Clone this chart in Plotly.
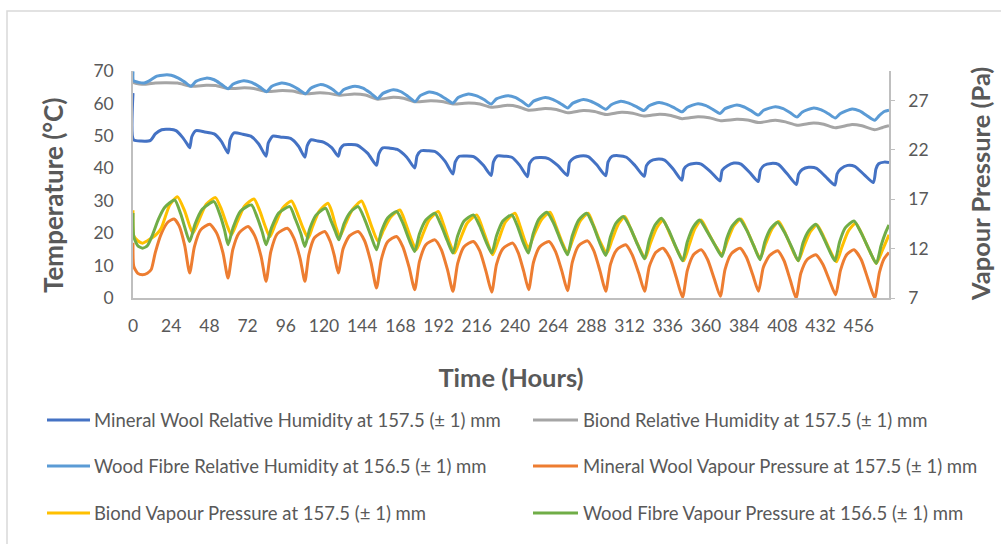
import plotly.graph_objects as go

# ---- Series data (hours, value) ----
mw_rh_t = [0, 0.3, 5, 11, 14, 18, 23, 27, 31, 34, 35.6,
           37, 39.6, 45, 51, 55.5, 59.7,
           61, 63.5, 69, 74, 79, 83.6,
           85, 87.8, 93, 99, 104, 108,
           109.5, 112, 116, 120, 125, 129,
           130.3, 132.5, 137, 141, 147.5, 153,
           154.5, 157, 161.5, 166, 172, 177,
           178.5, 181, 185.5, 190, 196, 201,
           202.5, 205, 209.5, 214, 220, 225,
           226.5, 229, 234, 238, 243, 247.8,
           249.2, 252, 256.5, 261, 267, 272.9,
           274.3, 277, 281, 286, 291.5, 297,
           298.5, 301, 305, 310, 315.5, 321.2,
           322.6, 325, 329, 334, 339.5, 344.8,
           346.2, 349, 352.5, 357, 363, 368.8,
           370.2, 373.5, 377.5, 382, 387.5, 392.8,
           394.2, 396.5, 401, 405.5, 411, 416.8,
           418.2, 420.5, 424.5, 429.5, 435, 441,
           442.4, 444.7, 449, 453.5, 459.5, 465.2,
           466.8, 468.5, 472, 475]
mw_rh_v = [63.2, 48.8, 48.4, 48.6, 50.6, 51.9, 52.0, 51.6, 49.6, 47.5, 46.3,
           49.8, 51.6, 51.2, 50.6, 48.3, 44.7,
           48.8, 50.9, 50.5, 49.9, 47.5, 43.7,
           47.8, 49.9, 49.6, 49.2, 46.8, 43.4,
           47.0, 48.8, 48.4, 48.0, 46.3, 43.7,
           46.0, 47.2, 47.3, 47.1, 44.6, 40.9,
           44.5, 46.3, 46.2, 45.8, 43.4, 40.1,
           43.8, 45.4, 45.4, 45.1, 42.2, 38.2,
           42.0, 43.7, 43.8, 43.6, 41.0, 37.8,
           42.0, 43.8, 43.7, 43.4, 40.9, 37.4,
           41.5, 43.1, 43.3, 43.0, 40.8, 37.8,
           41.8, 43.2, 43.8, 43.6, 41.0, 37.7,
           42.0, 43.7, 43.9, 43.4, 40.8, 37.5,
           40.8, 42.2, 42.8, 42.5, 39.7, 36.3,
           39.8, 41.1, 41.5, 41.3, 38.9, 36.1,
           39.4, 40.8, 41.6, 41.3, 38.7, 35.9,
           39.4, 40.9, 41.5, 41.2, 38.3, 35.0,
           38.2, 39.6, 40.3, 40.0, 37.5, 34.8,
           38.3, 39.8, 40.9, 40.6, 38.0, 35.6,
           39.8, 41.4, 41.9, 41.8]

bi_rh_t = [0, 0.3, 4, 8, 14, 20, 28, 36.5, 46, 52, 59.7, 70, 76, 84, 94, 100,
           108.5, 117.5, 123, 129.5, 139, 146, 153.8, 163.5, 170, 177.3, 187,
           194, 201, 211, 218, 225, 235.5, 242, 248.5, 259, 266, 273.2, 283,
           290, 297.2, 307, 314, 321, 331, 338, 345, 355, 362, 368.8, 379.4,
           386, 393, 403.6, 410, 417.2, 427.7, 434, 441.3, 451.8, 458, 466,
           471, 475]
bi_rh_v = [67.0, 66.4, 66.0, 65.9, 66.3, 66.4, 66.3, 65.3, 65.6, 65.5, 64.6,
           64.8, 64.6, 63.7, 64.0, 63.8, 63.0, 63.3, 63.1, 62.5, 62.9, 62.6,
           61.3, 61.9, 61.6, 60.5, 60.8, 60.6, 59.8, 60.1, 59.8, 58.8, 59.4,
           59.0, 57.9, 58.4, 58.1, 57.1, 57.8, 57.5, 56.6, 57.3, 57.0, 56.1,
           56.7, 56.3, 55.3, 55.9, 55.6, 54.7, 55.1, 54.9, 54.1, 54.8, 54.3,
           53.3, 54.0, 53.6, 52.5, 53.5, 53.1, 51.9, 52.6, 53.1]

wf_rh_t = [0, 0.3, 3.5, 7, 11, 15, 20, 24, 28.5, 32.5, 36.5,
           39.5, 46, 51, 55.5, 59.7,
           63, 69.5, 74.5, 79.5, 84,
           87, 93.3, 98.5, 103.5, 108.5,
           111.5, 117.5, 121.5, 125.5, 129.5,
           132.5, 139.4, 144.5, 149.5, 153.8,
           157, 163.5, 168.5, 173, 177.3,
           180.5, 186, 191, 196, 201,
           204.3, 210.7, 215.5, 220.5, 225,
           228.3, 235.5, 240.5, 244.5, 248.5,
           251.7, 259, 264, 268.5, 273.2,
           276.4, 283, 288, 292.5, 297.2,
           300.5, 306.5, 311.5, 316.3, 321,
           324.3, 330.5, 335.5, 340.3, 345,
           348.3, 355, 360, 364.5, 368.8,
           372, 379.4, 384, 388.5, 393,
           396.2, 403.6, 408.5, 413, 417.2,
           420.4, 427.7, 432.5, 437, 441.3,
           444.5, 451.8, 456.5, 461, 466,
           469, 472, 475]
wf_rh_v = [69.9, 67.0, 66.5, 66.3, 67.2, 68.4, 68.8, 68.7, 67.8, 66.6, 65.3,
           66.8, 67.8, 67.3, 65.9, 64.5,
           66.0, 67.0, 66.5, 65.1, 63.6,
           65.2, 66.3, 65.8, 64.5, 63.0,
           64.6, 65.8, 65.4, 64.3, 62.9,
           64.3, 65.3, 64.7, 63.1, 61.5,
           63.1, 64.2, 63.6, 62.1, 60.6,
           62.4, 63.5, 63.0, 61.6, 60.1,
           61.8, 62.9, 62.4, 61.2, 59.8,
           61.4, 62.4, 61.8, 60.6, 59.2,
           60.7, 61.8, 61.2, 60.0, 58.6,
           60.1, 61.2, 60.6, 59.5, 58.2,
           59.6, 60.7, 60.1, 59.0, 57.8,
           59.3, 60.3, 59.7, 58.6, 57.4,
           58.8, 59.9, 59.3, 58.1, 56.9,
           58.4, 59.5, 58.9, 57.7, 56.4,
           57.9, 59.0, 58.4, 57.1, 55.8,
           57.3, 58.6, 58.0, 56.8, 55.5,
           56.9, 58.3, 57.7, 56.3, 54.8,
           56.3, 57.5, 57.9]

mw_vp_t = [0, 0.5, 3, 6, 9, 11.5, 14, 18, 22, 25.8, 29, 32.5, 35.6,
           38.6, 42.5, 48.2, 52.5, 56.5, 59.7,
           62.7, 66.7, 72.3, 76.5, 80.5, 83.6,
           86.6, 90.6, 97, 101, 105, 108,
           110.5, 114, 120.5, 124, 126.5, 129,
           132, 136, 141.5, 145.5, 149.5, 153,
           156, 160, 165.6, 169.5, 173.5, 177,
           180, 184, 189.7, 193.7, 197.7, 201,
           204, 208, 213.8, 217.8, 221.8, 225.4,
           228.4, 232.4, 238.6, 242, 245.5, 248.6,
           251.6, 255.6, 261.4, 265.5, 269.5, 273,
           276, 280, 285.6, 289.5, 293.5, 297,
           300, 304, 309.6, 313.6, 317.8, 321.4,
           324.4, 328.4, 333, 337.5, 341.5, 345.3,
           348.3, 352.3, 357, 361, 365.3, 369,
           372, 376, 381.5, 385.5, 389.5, 393,
           396, 400, 405, 409, 413, 416.6,
           419.6, 423.6, 429, 433.5, 437.8, 441.5,
           444.5, 448.5, 453, 457.5, 462, 466,
           469, 472, 475]
mw_vp_v = [12.6, 10.2, 9.5, 9.35, 9.5, 9.9, 11.6, 13.6, 14.7, 15.0, 14.3, 12.3, 9.53,
           12.2, 13.9, 14.47, 13.6, 11.6, 9.02,
           11.9, 13.6, 14.24, 13.3, 11.2, 8.69,
           11.7, 13.5, 14.07, 13.1, 11.0, 8.69,
           11.4, 13.1, 13.74, 12.7, 11.3, 9.53,
           12.0, 13.3, 13.74, 12.8, 10.6, 8.01,
           10.9, 12.7, 13.23, 12.2, 10.1, 7.84,
           10.7, 12.4, 12.89, 11.9, 9.8, 7.68,
           10.5, 12.2, 12.73, 11.8, 9.7, 7.6,
           10.4, 12.0, 12.56, 11.6, 9.7, 7.84,
           10.6, 12.2, 12.73, 11.7, 9.7, 7.74,
           10.6, 12.3, 12.79, 11.8, 9.7, 7.68,
           10.4, 11.9, 12.39, 11.4, 9.5, 7.68,
           10.2, 11.6, 12.05, 11.0, 9.0, 7.07,
           9.8, 11.4, 11.88, 10.9, 8.9, 7.17,
           9.9, 11.5, 12.05, 11.1, 9.3, 7.68,
           10.1, 11.3, 11.78, 10.8, 8.8, 7.0,
           9.5, 10.9, 11.38, 10.4, 8.7, 7.33,
           9.8, 11.4, 11.88, 10.9, 8.8, 7.0,
           9.6, 11.0, 11.6]

bi_vp_t = [0, 0.5, 3, 6, 9, 12, 15, 17.8, 23, 27.9, 32.5, 35.6, 37.7,
           41.5, 46, 51.8, 55.5, 59, 61.8,
           65.5, 70, 76, 79.5, 83, 86,
           89.5, 94, 99.6, 103, 106.8, 110,
           113, 117, 122.5, 125, 127.5, 130,
           133.5, 138, 143.6, 147, 150.5, 154,
           157.5, 162, 167.7, 171, 174.5, 178,
           181.5, 186, 191.8, 195, 198.5, 202,
           205.5, 210, 216, 219.5, 223, 226,
           229.5, 234, 240, 243, 245.8, 248.4,
           252, 256.5, 262, 265.5, 269.5, 273,
           276.5, 281, 286, 289.5, 293.5, 297.7,
           301, 305, 309, 313, 317.5, 321.8,
           325, 329, 333, 337, 341.5, 346,
           349.5, 353, 357, 361.5, 366, 370,
           373.5, 377.5, 382, 386, 390, 394,
           397.5, 401.5, 405.7, 410, 414, 418,
           421.5, 425.5, 429.8, 434, 438, 442,
           445.5, 449.5, 454, 458.5, 463, 467,
           471, 475]
bi_vp_v = [15.9, 13.3, 12.8, 12.56, 12.8, 13.1, 13.5, 14.1, 16.4, 17.27, 15.8, 14.3, 13.57,
           14.9, 16.5, 17.17, 16.0, 14.4, 13.4,
           14.7, 16.3, 17.03, 15.9, 14.3, 13.2,
           14.5, 16.1, 16.83, 15.7, 14.1, 13.06,
           14.3, 15.8, 16.6, 15.7, 14.2, 13.23,
           14.5, 16.0, 16.83, 15.6, 14.0, 12.73,
           13.9, 15.2, 15.92, 14.7, 13.1, 11.88,
           13.2, 14.9, 15.76, 14.5, 12.8, 11.55,
           12.9, 14.6, 15.42, 14.1, 12.5, 11.38,
           12.8, 14.7, 15.59, 14.4, 13.0, 12.05,
           13.4, 14.9, 15.69, 14.4, 12.7, 11.55,
           13.0, 14.8, 15.59, 14.3, 12.7, 11.55,
           12.9, 14.5, 15.25, 13.9, 12.3, 11.04,
           12.5, 14.1, 14.91, 13.6, 12.0, 10.77,
           12.4, 14.0, 14.91, 13.6, 12.3, 11.38,
           12.8, 14.3, 15.01, 13.8, 12.3, 11.04,
           12.5, 14.0, 14.75, 13.5, 12.0, 10.77,
           12.2, 13.7, 14.41, 13.2, 11.8, 10.67,
           12.2, 13.8, 14.58, 13.3, 11.7, 10.5,
           11.9, 13.4]

wf_vp_t = [0, 0.5, 3, 6, 9, 12, 16, 20, 26.2, 30, 33, 35.6,
           39, 43.5, 50.9, 54.5, 57.5, 59.7,
           63, 67.5, 74.4, 78, 81.2, 83.6,
           87, 91.5, 98.5, 102, 105.5, 108,
           111, 115, 121, 124, 127, 129.4,
           132.5, 136.5, 141.5, 145.5, 149.5, 153,
           156, 160, 165.6, 169.5, 173.5, 177,
           180, 184, 189.7, 193.5, 197.5, 201,
           204, 208, 213.8, 217.8, 221.8, 225.4,
           228.4, 232.4, 238, 241.5, 245, 248.4,
           251.4, 255, 260, 264.5, 269, 273,
           276, 280, 285, 289, 293, 297,
           300, 303.5, 308, 312.5, 317, 321.4,
           324.4, 328, 332, 336.5, 341, 345.3,
           348.3, 352, 356, 360.5, 365.5, 370,
           373, 376.5, 381, 385.5, 390, 394,
           397, 400.5, 405, 409.5, 414, 418,
           421, 424.5, 429, 433, 437, 441,
           444, 447.5, 453, 457.5, 462.5, 467,
           470, 473, 475]
wf_vp_v = [15.6, 13.2, 12.3, 12.05, 12.3, 13.3, 15.0, 16.2, 16.93, 15.5, 13.9, 12.72,
           14.5, 16.0, 16.77, 15.5, 13.9, 12.39,
           14.2, 15.8, 16.43, 15.2, 13.7, 12.39,
           14.1, 15.6, 16.26, 15.0, 13.5, 12.22,
           14.0, 15.4, 16.09, 15.0, 13.8, 12.89,
           14.5, 15.7, 16.26, 15.0, 13.3, 11.88,
           13.7, 15.1, 15.76, 14.6, 12.9, 11.72,
           13.5, 14.9, 15.59, 14.4, 12.8, 11.55,
           13.3, 14.8, 15.42, 14.3, 12.7, 11.55,
           13.3, 14.8, 15.42, 14.3, 12.7, 11.55,
           13.5, 15.0, 15.69, 14.5, 12.7, 11.38,
           13.3, 14.9, 15.59, 14.4, 12.7, 11.3,
           13.2, 14.6, 15.25, 14.1, 12.4, 10.97,
           12.9, 14.4, 15.08, 13.9, 12.2, 10.77,
           12.7, 14.2, 14.91, 13.8, 12.4, 11.21,
           13.0, 14.3, 15.0, 13.9, 12.3, 10.87,
           12.7, 14.0, 14.68, 13.6, 12.1, 10.77,
           12.6, 13.8, 14.47, 13.4, 12.0, 10.77,
           12.7, 14.1, 14.81, 13.6, 11.9, 10.5,
           12.3, 13.7, 14.4]

series_names = [
    "Mineral Wool Relative Humidity at 157.5 (\u00b1 1) mm",
    "Biond Relative Humidity at 157.5 (\u00b1 1) mm",
    "Wood Fibre Relative Humidity at 156.5 (\u00b1 1) mm",
    "Mineral Wool Vapour Pressure at 157.5 (\u00b1 1) mm",
    "Biond Vapour Pressure at 157.5 (\u00b1 1) mm",
    "Wood Fibre Vapour Pressure at 156.5 (\u00b1 1) mm",
]
series_colors = ["#4472C4", "#A5A5A5", "#5B9BD5", "#ED7D31", "#FFC000", "#70AD47"]

x_ticks = list(range(0, 457, 24))
left_ticks = [0, 10, 20, 30, 40, 50, 60, 70]
right_ticks = [7, 12, 17, 22, 27]

left_title = "Temperature (\u00b0C)"
right_title = "Vapour Pressure (Pa)"
x_title = "Time (Hours)"

# ---- Layout geometry (pixels) ----
W, H = 1001, 544
PL, PR, PT, PB = 133, 889, 71, 298
PW, PH = PR - PL, PB - PT
FONT = "Lato"
GREY_TXT = "#595959"
AXIS_COL = "#BFBFBF"
TICK_SIZE = 17.5
TITLE_SIZE = 25.5
LEFT_TITLE_SIZE = 26
RIGHT_TITLE_SIZE = 25.5
LEGEND_SIZE = 18.5


def px(x):
    return (x - PL) / PW


def py(y):
    return 1 - (y - PT) / PH


fig = go.Figure()
data = [
    (mw_rh_t, mw_rh_v, "y"),
    (bi_rh_t, bi_rh_v, "y"),
    (wf_rh_t, wf_rh_v, "y"),
    (mw_vp_t, mw_vp_v, "y2"),
    (bi_vp_t, bi_vp_v, "y2"),
    (wf_vp_t, wf_vp_v, "y2"),
]
for (t, v, ax), name, col in zip(data, series_names, series_colors):
    fig.add_trace(go.Scatter(
        x=t, y=v, yaxis=ax, name=name, mode="lines",
        line=dict(color=col, width=3, shape="spline", smoothing=0.6),
        showlegend=False, hoverinfo="skip"))

fig.update_layout(
    width=W, height=H,
    margin=dict(l=PL, r=W - PR, t=PT, b=H - PB),
    paper_bgcolor="white", plot_bgcolor="white",
    font=dict(family=FONT, color=GREY_TXT, size=16),
    xaxis=dict(
        range=[0, 475], tickvals=x_ticks, ticktext=[str(v) for v in x_ticks],
        showgrid=False, zeroline=False, showline=True, linecolor=AXIS_COL,
        linewidth=1.5, ticks="", ticklabelstandoff=11,
        tickfont=dict(size=TICK_SIZE, color=GREY_TXT),
        title=dict(text="<b>" + x_title + "</b>",
                   font=dict(size=TITLE_SIZE, color=GREY_TXT), standoff=34),
    ),
    yaxis=dict(
        range=[0, 70], tickvals=left_ticks, showgrid=False, zeroline=False,
        showline=True, linecolor=AXIS_COL, linewidth=1.5, ticks="",
        ticklabelstandoff=14, tickfont=dict(size=TICK_SIZE, color=GREY_TXT),
    ),
    yaxis2=dict(
        range=[7, 30], tickvals=right_ticks, overlaying="y", side="right",
        showgrid=False, zeroline=False, showline=True, linecolor=AXIS_COL,
        linewidth=1.5, ticks="outside", ticklen=4, tickcolor=AXIS_COL,
        ticklabelstandoff=10, tickfont=dict(size=TICK_SIZE, color=GREY_TXT),
    ),
)

# Vertical axis titles
fig.add_annotation(xref="paper", yref="paper", x=px(53), y=py(196),
                   text="<b>" + left_title + "</b>", textangle=-90,
                   showarrow=False, xanchor="center", yanchor="middle",
                   font=dict(size=LEFT_TITLE_SIZE, color=GREY_TXT))
fig.add_annotation(xref="paper", yref="paper", x=px(980), y=py(184),
                   text="<b>" + right_title + "</b>", textangle=-90,
                   showarrow=False, xanchor="center", yanchor="middle",
                   font=dict(size=RIGHT_TITLE_SIZE, color=GREY_TXT))

# Chart frame (top and left edges visible)
fig.add_shape(type="rect", xref="paper", yref="paper",
              x0=px(7), x1=px(1010), y0=py(560), y1=py(11),
              line=dict(color="#D9D9D9", width=1.5), fillcolor="rgba(0,0,0,0)",
              layer="below")

# Legend: two columns, three rows
rows_y = [420, 466, 513]
col_line = [(47, 90), (533, 578)]
col_text = [92, 581]
for i, (name, col) in enumerate(zip(series_names, series_colors)):
    r, c = divmod(i, 2)
    yy = py(rows_y[r])
    fig.add_shape(type="line", xref="paper", yref="paper",
                  x0=px(col_line[c][0]), x1=px(col_line[c][1]), y0=yy, y1=yy,
                  line=dict(color=col, width=3))
    fig.add_annotation(xref="paper", yref="paper", x=px(col_text[c]), y=yy,
                       text=name, showarrow=False, xanchor="left",
                       yanchor="middle",
                       font=dict(size=LEGEND_SIZE, color=GREY_TXT))

fig.write_html("out.html")
